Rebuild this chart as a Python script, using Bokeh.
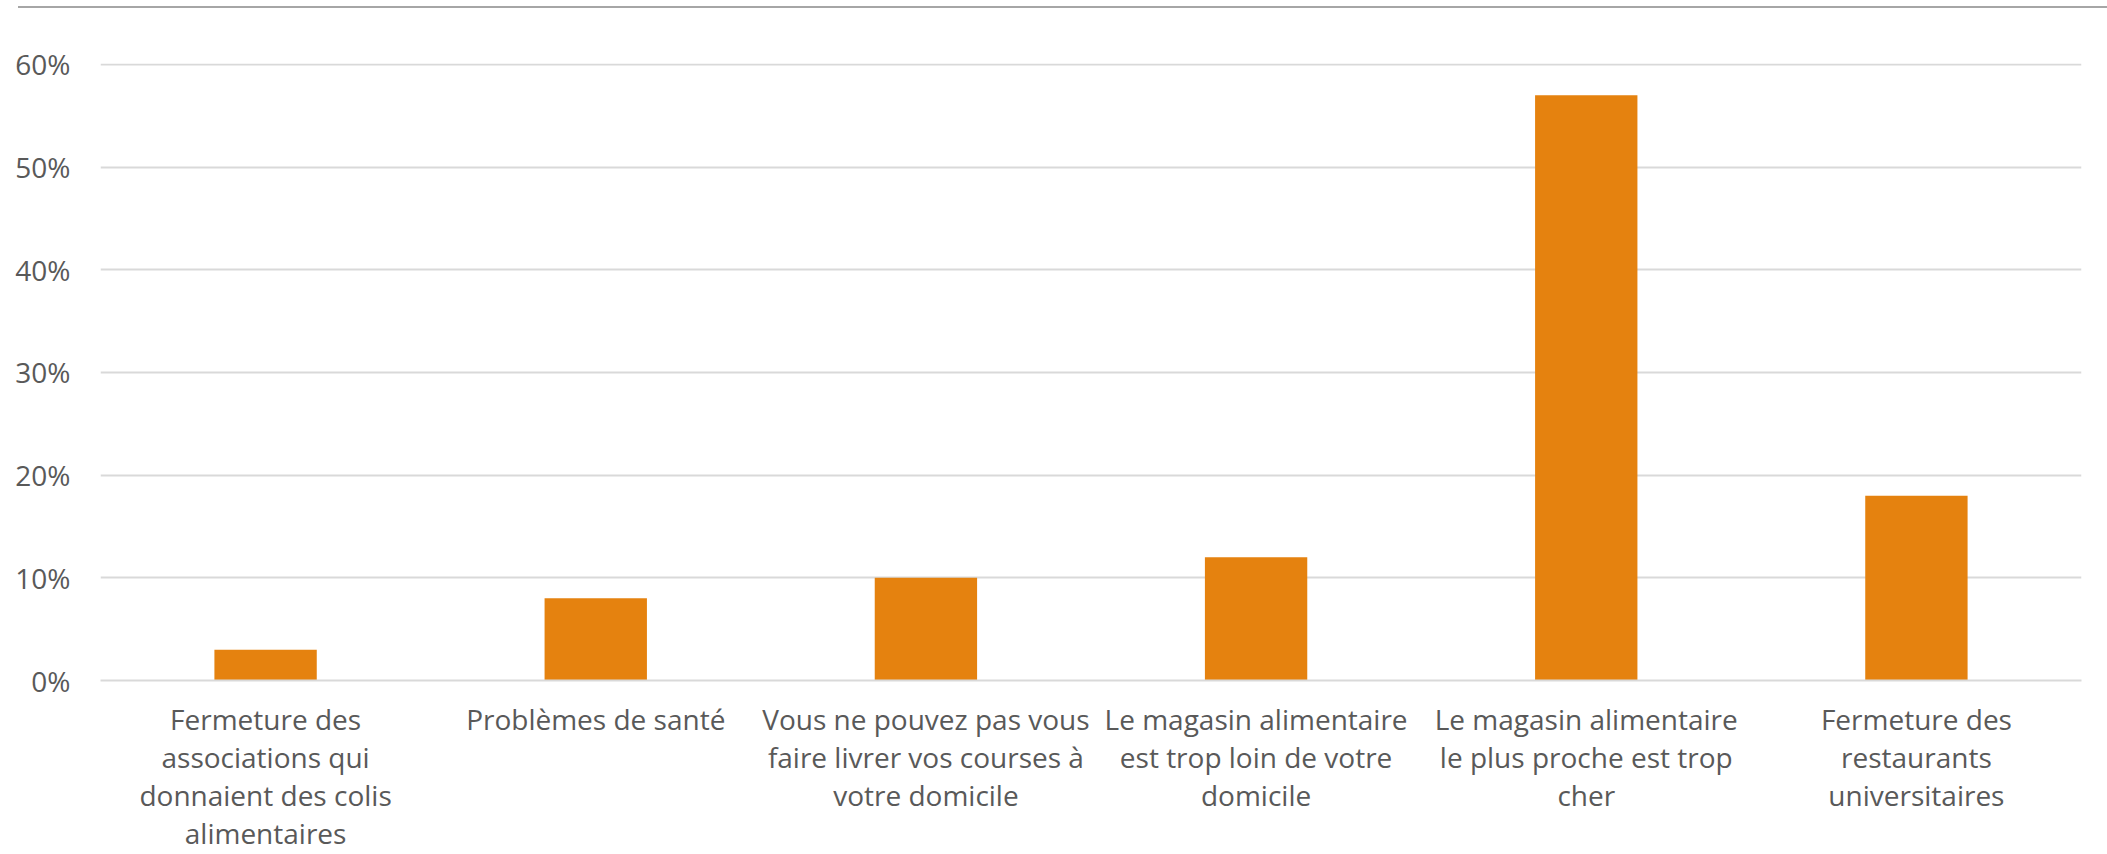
from bokeh.plotting import figure
from bokeh.models import Range1d, FactorRange, NumeralTickFormatter, FixedTicker
from bokeh.embed import file_html
from bokeh.resources import INLINE

categories = [
    "Fermeture des\nassociations qui\ndonnaient des colis\nalimentaires",
    "Problèmes de santé",
    "Vous ne pouvez pas vous\nfaire livrer vos courses à\nvotre domicile",
    "Le magasin alimentaire\nest trop loin de votre\ndomicile",
    "Le magasin alimentaire\nle plus proche est trop\ncher",
    "Fermeture des\nrestaurants\nuniversitaires",
]
values = [0.03, 0.08, 0.10, 0.12, 0.57, 0.18]
y_ticks = [0.0, 0.1, 0.2, 0.3, 0.4, 0.5, 0.6]

FONT = "Open Sans"
TEXT_COLOR = "#595959"
BAR_COLOR = "#E5820F"

p = figure(
    x_range=FactorRange(*categories),
    y_range=Range1d(0, 0.6008),
    width=2107, height=854,
    output_backend="svg", toolbar_location=None,
    min_border_left=100, min_border_right=26,
    min_border_top=63, min_border_bottom=171,
)
# thin grey rule along the very top of the chart (drawn behind a transparent border)
p.styles = {
    "background-color": "white",
    "background-image": "linear-gradient(#a6a6a6, #a6a6a6)",
    "background-position": "18px 6px",
    "background-size": "2089px 2px",
    "background-repeat": "no-repeat",
}

p.vbar(x=categories, top=values, width=0.31, fill_color=BAR_COLOR, line_color=None)

p.outline_line_color = None
p.background_fill_color = "white"
p.border_fill_color = None

p.xgrid.grid_line_color = None
p.ygrid.grid_line_color = "#d9d9d9"
p.ygrid.grid_line_width = 2

p.yaxis.ticker = FixedTicker(ticks=y_ticks)
p.yaxis.formatter = NumeralTickFormatter(format="0%")
p.yaxis.axis_line_color = None
p.yaxis.major_tick_line_color = None
p.yaxis.minor_tick_line_color = None
p.yaxis.major_tick_out = 0
p.yaxis.major_label_standoff = 30
p.yaxis.major_label_text_font = FONT
p.yaxis.major_label_text_font_size = "28px"
p.yaxis.major_label_text_color = TEXT_COLOR

p.xaxis.axis_line_color = "#d9d9d9"
p.xaxis.axis_line_width = 2
p.xaxis.major_tick_line_color = None
p.xaxis.minor_tick_line_color = None
p.xaxis.major_tick_out = 0
p.xaxis.major_label_standoff = 19
p.xaxis.major_label_text_font = FONT
p.xaxis.major_label_text_font_size = "28px"
p.xaxis.major_label_text_color = TEXT_COLOR
p.xaxis.major_label_text_line_height = 1.0

open("out.html", "w").write(file_html(p, INLINE))
